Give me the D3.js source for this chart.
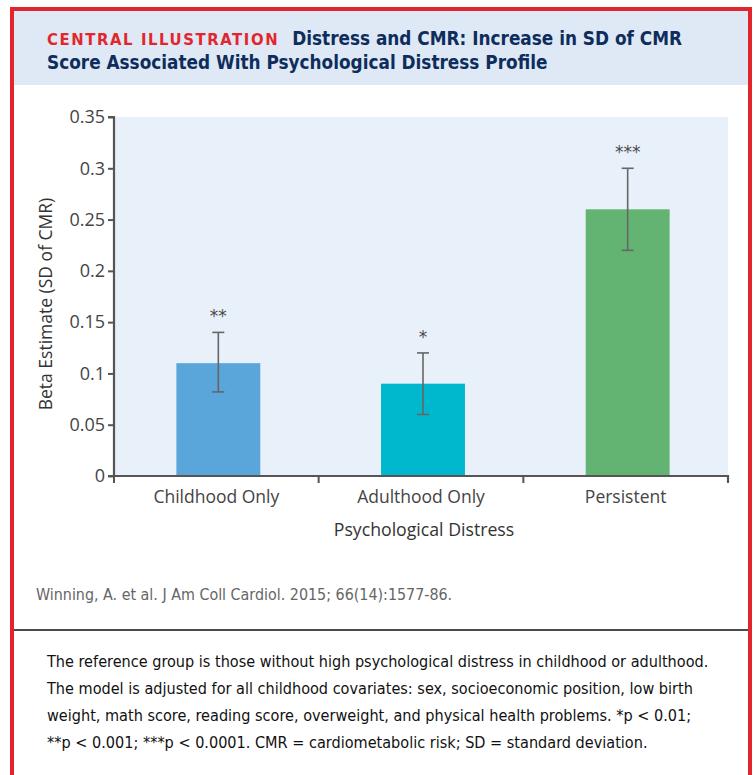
<!DOCTYPE html>
<html>
<head>
<meta charset="utf-8">
<script src="https://cdn.jsdelivr.net/npm/d3@7"></script>
<style>
  body { margin: 0; background: #fff; }
  svg { display: block; }
</style>
</head>
<body>
<script>
// data
const groups = ["Childhood Only", "Adulthood Only", "Persistent"];
const beta = [0.11, 0.09, 0.26];
const lower = [0.082, 0.06, 0.22];
const upper = [0.14, 0.12, 0.30];
const stars = ["**", "*", "***"];
const barColors = ["#5aa5da", "#00b8cd", "#63b472"];
const yTicks = [0, 0.05, 0.1, 0.15, 0.2, 0.25, 0.3, 0.35];
const notes = [
  "The reference group is those without high psychological distress in childhood or adulthood.",
  "The model is adjusted for all childhood covariates: sex, socioeconomic position, low birth",
  "weight, math score, reading score, overweight, and physical health problems. *p < 0.01;",
  "**p < 0.001; ***p < 0.0001. CMR = cardiometabolic risk; SD = standard deviation."
];

const W = 755, H = 775;
const svg = d3.select("body").append("svg").attr("width", W).attr("height", H);

// header band + divider
svg.append("rect").attr("x", 12).attr("y", 9).attr("width", 738).attr("height", 76)
  .attr("fill", "#dee9f5");
svg.append("line").attr("x1", 12).attr("x2", 750).attr("y1", 630).attr("y2", 630)
  .attr("stroke", "#111").attr("stroke-width", 1.5);

const condensed = "'Liberation Sans Narrow', 'DejaVu Sans Condensed', sans-serif";
const t1 = svg.append("text").attr("x", 47).attr("y", 45)
  .style("font-family", condensed).style("font-weight", "bold");
t1.append("tspan").text("CENTRAL ILLUSTRATION")
  .attr("fill", "#e2262e").style("font-size", "16.5px").style("letter-spacing", "1.6px");
t1.append("tspan").attr("dx", 13).text("Distress and CMR: Increase in SD of CMR")
  .attr("fill", "#0f2d5c").style("font-size", "18.8px").style("letter-spacing", "0px");
svg.append("text").attr("x", 47).attr("y", 69)
  .style("font-family", condensed).style("font-weight", "bold").style("font-size", "18.8px")
  .attr("fill", "#0f2d5c").text("Score Associated With Psychological Distress Profile");

// plot
const m = {left: 114, right: 728, top: 117, bottom: 476};
const x = d3.scaleBand().domain(groups).range([m.left, m.right]).paddingInner(0).paddingOuter(0);
const y = d3.scaleLinear().domain([0, 0.35]).range([m.bottom, m.top]);

svg.append("rect").attr("x", m.left).attr("y", m.top)
  .attr("width", m.right - m.left).attr("height", m.bottom - m.top).attr("fill", "#e8f0fa");

const bw = x.bandwidth() * 0.41;
svg.selectAll("rect.bar").data(groups).enter().append("rect").attr("class", "bar")
  .attr("x", d => x(d) + x.bandwidth() / 2 - bw / 2 + 2)
  .attr("width", bw)
  .attr("y", (d, i) => y(beta[i]))
  .attr("height", (d, i) => y(0) - y(beta[i]))
  .attr("fill", (d, i) => barColors[i]);

const eb = svg.append("g").attr("stroke", "#666").attr("stroke-width", 1.6);
groups.forEach((g, i) => {
  const cx = x(g) + x.bandwidth() / 2 + 2;
  eb.append("line").attr("x1", cx).attr("x2", cx).attr("y1", y(lower[i])).attr("y2", y(upper[i]));
  [lower[i], upper[i]].forEach(v => eb.append("line")
    .attr("x1", cx - 6).attr("x2", cx + 6).attr("y1", y(v)).attr("y2", y(v)));
  svg.append("text").attr("x", cx).attr("y", y(upper[i]) - 10)
    .attr("text-anchor", "middle").attr("fill", "#4a4a4a")
    .style("font-family", "'DejaVu Sans', sans-serif").style("font-size", "17px")
    .text(stars[i]);
});

const tickFont = "'Open Sans', 'Noto Sans', sans-serif";
const yAxis = svg.append("g").attr("transform", `translate(${m.left},0)`)
  .call(d3.axisLeft(y).tickValues(yTicks).tickSize(6).tickPadding(3)
    .tickFormat(d => d3.format("")(+d.toFixed(2))));
const xAxis = svg.append("g").attr("transform", `translate(0,${m.bottom})`)
  .call(d3.axisBottom(x).tickSize(0).tickPadding(15));
// band boundary ticks
const edges = groups.map(g => x(g)).concat([m.right]);
xAxis.selectAll("line.edge").data(edges).enter().append("line").attr("class", "edge")
  .attr("x1", d => d).attr("x2", d => d).attr("y1", 0).attr("y2", 7);

[yAxis, xAxis].forEach(a => {
  a.select(".domain").attr("stroke", "#555").attr("stroke-width", 2.2);
  a.selectAll("line").attr("stroke", "#555").attr("stroke-width", 2);
  a.selectAll("text").attr("fill", "#444")
    .style("font-family", tickFont).style("font-size", "17.5px");
});
yAxis.selectAll("text").style("font-size", "18px");
yAxis.select(".domain").attr("d", `M-6,${m.top}H0V${m.bottom}`);
xAxis.select(".domain").attr("d", `M${m.left - 6},0H${m.right}V6`);

svg.append("text").attr("transform", `translate(52,304) rotate(-90)`)
  .attr("text-anchor", "middle").attr("fill", "#333")
  .style("font-family", tickFont).style("font-size", "17.5px").style("font-weight", 500)
  .text("Beta Estimate (SD of CMR)");
svg.append("text").attr("x", 424).attr("y", 536)
  .attr("text-anchor", "middle").attr("fill", "#333")
  .style("font-family", tickFont).style("font-size", "17.7px").style("font-weight", 500)
  .text("Psychological Distress");

// footer
svg.append("text").attr("x", 36).attr("y", 600).attr("fill", "#666")
  .style("font-family", condensed).style("font-size", "15.9px")
  .text("Winning, A. et al. J Am Coll Cardiol. 2015; 66(14):1577-86.");
svg.selectAll("text.note").data(notes).enter().append("text").attr("class", "note")
  .attr("x", 47).attr("y", (d, i) => 667 + i * 27).attr("fill", "#111")
  .style("font-family", condensed).style("font-size", "16.1px")
  .text(d => d);

// red frame on top
svg.append("rect").attr("x", 12).attr("y", 9).attr("width", 738).attr("height", 800)
  .attr("fill", "none").attr("stroke", "#e2252d").attr("stroke-width", 4);
</script>
</body>
</html>
